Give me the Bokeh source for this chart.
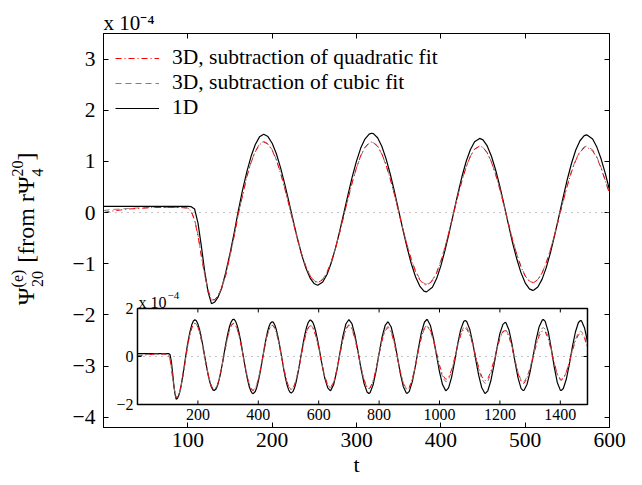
import numpy as np
from bokeh.plotting import figure
from bokeh.layouts import row
from bokeh.models import (Range1d, LinearAxis, FixedTicker, Span, Label, Legend,
                          LegendItem, CustomJSTickFormatter, ColumnDataSource)
from bokeh.embed import file_html
from bokeh.resources import INLINE
from bokeh.core.properties import value

FONT = "Liberation Serif"

# ---------------- data (values in units of 1e-4) ----------------
t = [
    0, 10, 20, 30, 40, 50, 60, 70, 80, 90, 100,
    104, 108, 112, 116, 120, 124, 128, 132, 136, 140,
    150, 160, 170, 180, 190,
    200, 210, 220, 230, 240, 250, 254,
    260, 270, 280, 290, 300, 310, 318,
    320, 330, 340, 350, 360, 370, 380, 383,
    390, 400, 410, 420, 430, 440, 446,
    450, 460, 470, 480, 490, 500, 509,
    510, 520, 530, 540, 550, 560, 570, 573,
    580, 590, 600, 610, 620, 630, 638,
    640, 650, 660, 670, 680, 690, 700,
    710, 720, 730, 740, 750, 760, 766,
    770, 780, 790, 800, 810, 820, 829,
    830, 840, 850, 860, 870, 880, 890, 893,
    900, 910, 920, 930, 940, 950, 958,
    960, 970, 980, 990, 1000, 1010, 1020, 1022,
    1030, 1040, 1050, 1060, 1070, 1080, 1085,
    1090, 1100, 1110, 1120, 1130, 1140, 1150, 1152,
    1160, 1170, 1180, 1190, 1200, 1210, 1217,
    1220, 1230, 1240, 1250, 1260, 1270, 1277,
    1280, 1290, 1300, 1310, 1320, 1330, 1340, 1344,
    1350, 1360, 1370, 1380, 1390, 1400, 1403,
    1410, 1420, 1430, 1440, 1450, 1460, 1467,
    1470, 1480, 1490,
]

psi_1d = [
    0.12, 0.12, 0.12, 0.12, 0.12, 0.12, 0.12, 0.12, 0.12, 0.12, 0.12,
    0.115, 0.07, -0.20, -0.65, -1.15, -1.55, -1.78, -1.746, -1.646, -1.484,
    -0.80, 0.05, 0.80, 1.33, 1.53,
    1.356, 0.874, 0.200, -0.509, -1.085, -1.392, -1.42,
    -1.356, -0.985, -0.366, 0.355, 1.007, 1.437, 1.55,
    1.543, 1.297, 0.754, 0.037, -0.686, -1.254, -1.534, -1.55,
    -1.459, -1.042, -0.384, 0.358, 0.998, 1.383, 1.45,
    1.421, 1.102, 0.510, -0.219, -0.902, -1.373, -1.52,
    -1.518, -1.305, -0.782, -0.074, 0.652, 1.223, 1.504, 1.52,
    1.437, 1.051, 0.440, -0.267, -0.898, -1.311, -1.42,
    -1.412, -1.156, -0.592, 0.135, 0.842, 1.354, 1.54,
    1.369, 0.893, 0.220, -0.504, -1.113, -1.477, -1.54,
    -1.510, -1.191, -0.597, 0.135, 0.820, 1.292, 1.44,
    1.438, 1.229, 0.716, 0.023, -0.689, -1.249, -1.524, -1.54,
    -1.453, -1.048, -0.409, 0.332, 0.994, 1.426, 1.54,
    1.533, 1.290, 0.758, 0.060, -0.638, -1.170, -1.413, -1.42,
    -1.305, -0.870, -0.213, 0.501, 1.107, 1.455, 1.50,
    1.458, 1.139, 0.573, -0.127, -0.801, -1.303, -1.533, -1.54,
    -1.430, -1.012, -0.381, 0.331, 0.958, 1.336, 1.42,
    1.403, 1.104, 0.511, -0.222, -0.893, -1.326, -1.42,
    -1.405, -1.154, -0.640, 0.025, 0.700, 1.240, 1.514, 1.54,
    1.465, 1.034, 0.334, -0.442, -1.081, -1.401, -1.42,
    -1.334, -0.940, -0.317, 0.397, 1.020, 1.415, 1.50,
    1.484, 1.201, 0.631,
]

psi_3d_quad = [
    0.00, 0.03, 0.05, 0.07, 0.08, 0.09, 0.10, 0.10, 0.10, 0.10, 0.09,
    0.02, -0.15, -0.45, -0.85, -1.22, -1.52, -1.71, -1.702, -1.620, -1.478,
    -0.84, -0.02, 0.70, 1.19, 1.38,
    1.218, 0.769, 0.140, -0.521, -1.058, -1.344, -1.37,
    -1.311, -0.967, -0.394, 0.273, 0.877, 1.275, 1.38,
    1.374, 1.152, 0.661, 0.014, -0.640, -1.153, -1.405, -1.42,
    -1.338, -0.960, -0.363, 0.310, 0.890, 1.239, 1.30,
    1.274, 0.988, 0.455, -0.201, -0.814, -1.238, -1.37,
    -1.368, -1.182, -0.726, -0.110, 0.523, 1.021, 1.266, 1.28,
    1.207, 0.870, 0.370, -0.282, -0.834, -1.195, -1.29,
    -1.283, -1.059, -0.566, 0.071, 0.689, 1.138, 1.30,
    1.154, 0.748, 0.173, -0.445, -0.966, -1.277, -1.33,
    -1.305, -1.034, -0.529, 0.092, 0.673, 1.075, 1.20,
    1.198, 1.017, 0.573, -0.027, -0.643, -1.128, -1.366, -1.38,
    -1.304, -0.954, -0.400, 0.243, 0.816, 1.191, 1.29,
    1.285, 1.101, 0.698, 0.170, -0.358, -0.761, -0.945, -0.95,
    -0.867, -0.551, -0.074, 0.445, 0.884, 1.137, 1.17,
    1.140, 0.912, 0.508, 0.009, -0.472, -0.831, -0.995, -1.00,
    -0.923, -0.629, -0.186, 0.315, 0.756, 1.021, 1.08,
    1.066, 0.835, 0.376, -0.192, -0.712, -1.047, -1.12,
    -1.109, -0.923, -0.540, -0.046, 0.456, 0.857, 1.061, 1.08,
    1.028, 0.732, 0.249, -0.286, -0.726, -0.947, -0.96,
    -0.904, -0.644, -0.235, 0.235, 0.644, 0.904, 0.96,
    0.949, 0.767, 0.398,
]

psi_3d_cubic = [
    0.04, 0.06, 0.07, 0.08, 0.09, 0.095, 0.10, 0.10, 0.10, 0.10, 0.09,
    0.03, -0.13, -0.43, -0.83, -1.21, -1.51, -1.71, -1.700, -1.615, -1.470,
    -0.84, -0.02, 0.71, 1.20, 1.39,
    1.228, 0.779, 0.150, -0.511, -1.048, -1.334, -1.36,
    -1.301, -0.960, -0.391, 0.271, 0.871, 1.266, 1.37,
    1.364, 1.144, 0.659, 0.019, -0.628, -1.135, -1.386, -1.40,
    -1.318, -0.943, -0.351, 0.317, 0.893, 1.240, 1.30,
    1.276, 0.992, 0.462, -0.195, -0.806, -1.232, -1.365,
    -1.363, -1.181, -0.721, -0.100, 0.538, 1.039, 1.286, 1.30,
    1.226, 0.885, 0.380, -0.280, -0.839, -1.204, -1.30,
    -1.293, -1.065, -0.564, 0.082, 0.710, 1.165, 1.33,
    1.181, 0.767, 0.181, -0.448, -0.979, -1.296, -1.35,
    -1.324, -1.046, -0.527, 0.111, 0.709, 1.121, 1.25,
    1.248, 1.066, 0.618, 0.014, -0.608, -1.096, -1.336, -1.35,
    -1.276, -0.935, -0.395, 0.230, 0.789, 1.154, 1.25,
    1.244, 1.056, 0.642, 0.100, -0.442, -0.856, -1.044, -1.05,
    -0.960, -0.617, -0.100, 0.463, 0.940, 1.214, 1.25,
    1.218, 0.969, 0.527, -0.018, -0.544, -0.935, -1.115, -1.12,
    -1.037, -0.721, -0.243, 0.296, 0.771, 1.057, 1.12,
    1.107, 0.877, 0.422, -0.140, -0.656, -0.988, -1.06,
    -1.049, -0.857, -0.464, 0.043, 0.559, 0.971, 1.180, 1.20,
    1.144, 0.824, 0.304, -0.273, -0.748, -0.986, -1.00,
    -0.940, -0.663, -0.226, 0.276, 0.713, 0.991, 1.05,
    1.039, 0.842, 0.446,
]

# extra readings between the samples above (main-panel range)
t_fine = [145, 155, 165, 175, 185,
          195, 205, 215, 225, 235, 245,
          265, 275, 285, 295, 305, 315,
          325, 335, 345, 355, 365, 375,
          395, 405, 415, 425, 435,
          455, 465, 475, 485, 495, 505,
          515, 525, 535, 545, 555, 565,
          585, 595, 605]
psi_1d_fine = [-1.17, -0.39, 0.45, 1.10, 1.48,
               1.486, 1.150, 0.551, -0.162, -0.826, -1.280,
               -1.210, -0.699, -0.008, 0.702, 1.260, 1.534,
               1.462, 1.055, 0.412, -0.334, -1.000, -1.435,
               -1.290, -0.735, -0.013, 0.700, 1.228,
               1.303, 0.832, 0.150, -0.586, -1.173, -1.491,
               -1.455, -1.075, -0.441, 0.296, 0.964, 1.404,
               1.280, 0.765, 0.086]
psi_3d_quad_fine = [-1.222, -0.46, 0.34, 0.98, 1.329,
                    1.339, 1.026, 0.468, -0.197, -0.816, -1.240,
                    -1.175, -0.702, -0.062, 0.595, 1.112, 1.365,
                    1.300, 0.933, 0.352, -0.322, -0.923, -1.316,
                    -1.184, -0.681, -0.026, 0.620, 1.098,
                    1.168, 0.744, 0.131, -0.530, -1.058, -1.344,
                    -1.313, -0.982, -0.430, 0.213, 0.796, 1.179,
                    1.071, 0.620, 0.060]
psi_3d_cubic_fine = [-1.215, -0.46, 0.345, 0.99, 1.34,
                     1.349, 1.036, 0.478, -0.187, -0.806, -1.230,
                     -1.167, -0.697, -0.062, 0.591, 1.104, 1.355,
                     1.291, 0.928, 0.353, -0.314, -0.909, -1.297,
                     -1.166, -0.666, -0.017, 0.625, 1.100,
                     1.168, 0.745, 0.134, -0.527, -1.053, -1.339,
                     -1.308, -0.975, -0.419, 0.227, 0.813, 1.198,
                     1.088, 0.633, 0.060]

legend_labels = ["3D, subtraction of quadratic fit",
                 "3D, subtraction of cubic fit",
                 "1D"]
x_ticks = [100, 200, 300, 400, 500, 600]
y_ticks = [-4, -3, -2, -1, 0, 1, 2, 3]
y_tick_labels = ["\u22124", "\u22123", "\u22122", "\u22121", "0", "1", "2", "3"]
inset_x_ticks = [200, 400, 600, 800, 1000, 1200, 1400]
inset_x_tick_labels = ["200", "400", "600", "800", "1000", "1200", "1400"]
inset_y_ticks = [-2, 0, 2]
inset_y_tick_labels = ["\u22122", "0", "2"]
inset_t_range = (0, 1490)
inset_v_range = (-2, 2)
ylabel_big = ["\u03a8", "[from r\u03a8", "]"]
ylabel_small = ["(e)", "20", "20", "4"]

# merge the two sets of readings in time order
t_all = np.array(t + t_fine, dtype=float)
order = np.argsort(t_all, kind="stable")
src = ColumnDataSource(dict(
    t=t_all[order],
    d1=np.array(psi_1d + psi_1d_fine)[order],
    q=np.array(psi_3d_quad + psi_3d_quad_fine)[order],
    c=np.array(psi_3d_cubic + psi_3d_cubic_fine)[order],
))

# ---------------- left strip with the y label ----------------
# (its frame is aligned with the main frame: page rows 33..427)
LW = 50
lf = figure(width=LW, height=485, output_backend="svg", toolbar_location=None,
            x_range=Range1d(0, LW), y_range=Range1d(427, 33), min_border=0,
            x_axis_location=None, y_axis_location=None)
lf.grid.visible = False
lf.outline_line_color = None
lf.background_fill_color = "white"
lf.border_fill_color = "white"
lf.text(x=[25, 25, 25], y=[296, 219, 156], text=ylabel_big, angle=np.pi / 2,
        text_font=value(FONT), text_font_size="24px", text_color="black",
        text_align="center", text_baseline="middle")
lf.text(x=[16.5, 36.5, 16.5, 36.5], y=[278, 278.5, 168, 172], text=ylabel_small,
        angle=np.pi / 2, text_font=value(FONT), text_font_size="16px",
        text_color="black", text_align="center", text_baseline="middle")

# ---------------- main figure ----------------
p = figure(width=642 - LW, height=485, output_backend="svg", toolbar_location=None,
           x_range=Range1d(0, 600), y_range=Range1d(-4.2, 3.5),
           min_border_left=103 - LW, min_border_right=33, min_border_top=33,
           min_border_bottom=58, title="x 10\u207b\u2074")
p.background_fill_color = "white"
p.border_fill_color = "white"
p.outline_line_color = "black"
p.outline_line_width = 1
p.xgrid.visible = False
p.ygrid.visible = False
p.title.align = "left"
p.title.offset = 0
p.title.standoff = -3
p.title.text_font = FONT
p.title.text_font_size = "21px"
p.title.text_font_style = "normal"
p.title.text_color = "black"

TICK_FS = "21.5px"


def style(ax, ticks, show_labels, overrides=None, standoff=6):
    ax.ticker = FixedTicker(ticks=ticks)
    ax.major_tick_in = 5
    ax.major_tick_out = 0
    ax.minor_tick_line_color = None
    ax.axis_line_color = "black"
    ax.major_tick_line_color = "black"
    ax.major_label_text_font = FONT
    ax.major_label_text_color = "black"
    ax.major_label_standoff = standoff
    if overrides:
        ax.major_label_overrides = overrides
    if show_labels:
        ax.major_label_text_font_size = TICK_FS
    else:
        ax.formatter = CustomJSTickFormatter(code="return ''")
        ax.major_label_text_font_size = "0px"
        ax.major_label_standoff = 0


xa = p.xaxis[0]
ya = p.yaxis[0]
style(xa, x_ticks, True, standoff=5)
style(ya, y_ticks, True, {v: s for v, s in zip(y_ticks, y_tick_labels)}, standoff=8)
xa.axis_label = "t"
xa.axis_label_text_font = FONT
xa.axis_label_text_font_size = "22px"
xa.axis_label_text_font_style = "normal"
xa.axis_label_text_color = "black"
xa.axis_label_standoff = 2

top_ax = LinearAxis()
style(top_ax, x_ticks, False)
p.add_layout(top_ax, "above")
right_ax = LinearAxis()
style(right_ax, y_ticks, False)
p.add_layout(right_ax, "right")

p.add_layout(Span(location=0, dimension="width", line_color="#808080",
                  line_dash="1 5", line_width=1))

r1 = p.line("t", "d1", source=src, line_color="black", line_width=1.2)
rc = p.line("t", "c", source=src, line_color="#808080", line_width=1, line_dash="6 4")
rq = p.line("t", "q", source=src, line_color="#ff0000", line_width=1, line_dash="6 3 1 3")

legend = Legend(items=[LegendItem(label=legend_labels[0], renderers=[rq]),
                       LegendItem(label=legend_labels[1], renderers=[rc]),
                       LegendItem(label=legend_labels[2], renderers=[r1])],
                location="top_left", margin=11, padding=1, spacing=0,
                glyph_width=44, glyph_height=20, label_height=20, label_standoff=13,
                label_text_font=FONT, label_text_font_size="21.5px",
                label_text_color="black",
                background_fill_alpha=0, border_line_alpha=0)
p.add_layout(legend)

# ---------------- inset ----------------
ins = p.subplot(x_source=Range1d(*inset_t_range), y_source=Range1d(*inset_v_range),
                x_target=Range1d(40.3, 573.9), y_target=Range1d(-3.75, -1.874))
ins.quad(left=[inset_t_range[0]], right=[inset_t_range[1]],
         bottom=[inset_v_range[0]], top=[inset_v_range[1]],
         fill_color="white", line_color=None)
ins.line(x=[inset_t_range[0], inset_t_range[1]], y=[0, 0], line_color="#808080",
         line_dash="1 5", line_width=1)
ins.line("t", "d1", source=src, line_color="black", line_width=1.2)
ins.line("t", "c", source=src, line_color="#808080", line_width=1, line_dash="5 3")
ins.line("t", "q", source=src, line_color="#ff0000", line_width=1, line_dash="5 3 1 3")
ins.quad(left=[inset_t_range[0]], right=[inset_t_range[1]],
         bottom=[inset_v_range[0]], top=[inset_v_range[1]],
         fill_color=None, line_color="black", line_width=1.5)
n = len(inset_x_ticks)
ins.ray(x=inset_x_ticks, y=[inset_v_range[0]] * n, length=4, length_units="screen",
        angle=np.pi / 2, line_color="black", line_width=1)
ins.ray(x=inset_x_ticks, y=[inset_v_range[1]] * n, length=4, length_units="screen",
        angle=-np.pi / 2, line_color="black", line_width=1)
ins.ray(x=[inset_t_range[0]], y=[0], length=4, length_units="screen",
        angle=0, line_color="black", line_width=1)
ins.ray(x=[inset_t_range[1]], y=[0], length=4, length_units="screen",
        angle=np.pi, line_color="black", line_width=1)
ins.text(x=inset_x_ticks, y=[inset_v_range[0]] * n, text=inset_x_tick_labels,
         y_offset=5, text_align="center", text_baseline="top",
         text_font=value(FONT), text_font_size="16px", text_color="black")
ins.text(x=[inset_t_range[0]] * 3, y=inset_y_ticks, text=inset_y_tick_labels,
         x_offset=-4, text_align="right", text_baseline="middle",
         text_font=value(FONT), text_font_size="16px", text_color="black")
p.add_layout(Label(x=35, y=125, x_units="screen", y_units="screen", text="x 10",
                   text_font=FONT, text_font_size="16px", text_baseline="alphabetic",
                   text_color="black"))
p.add_layout(Label(x=64, y=132, x_units="screen", y_units="screen", text="\u22124",
                   text_font=FONT, text_font_size="11px", text_baseline="alphabetic",
                   text_color="black"))

layout = row(lf, p)
open("out.html", "w").write(file_html(layout, INLINE))
